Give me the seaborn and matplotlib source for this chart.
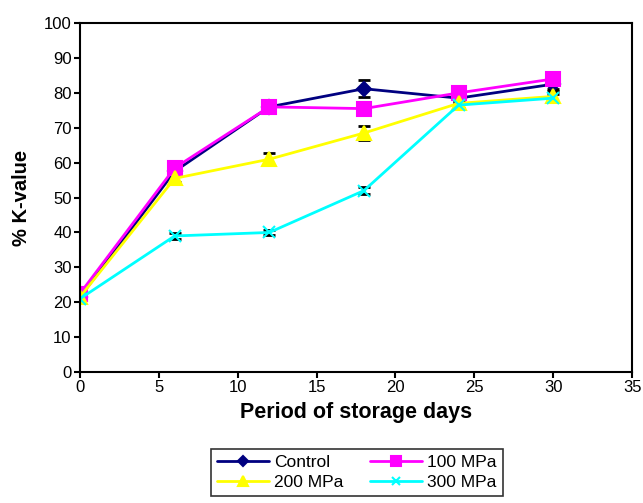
import pandas as pd
import matplotlib
matplotlib.use("Agg")
import matplotlib.pyplot as plt
import seaborn as sns

days = [0, 6, 12, 18, 24, 30]
control = [21.5, 57.5, 76.0, 81.2, 78.5, 82.5]
mpa100 = [22.5, 58.5, 76.0, 75.5, 80.0, 84.0]
mpa200 = [21.5, 55.5, 61.0, 68.5, 77.0, 79.0]
mpa300 = [21.0, 39.0, 40.0, 52.0, 76.5, 78.5]
err_control = [1.0, 1.0, 1.5, 2.4, 1.5, 1.5]
err_100 = [1.0, 1.0, 1.5, 1.0, 1.0, 1.0]
err_200 = [1.0, 1.0, 1.8, 2.0, 1.2, 1.5]
err_300 = [1.0, 0.8, 0.8, 1.0, 1.2, 1.2]

series = ["Control", "100 MPa", "200 MPa", "300 MPa"]
df = pd.DataFrame({
    "day": days * 4,
    "k": control + mpa100 + mpa200 + mpa300,
    "err": err_control + err_100 + err_200 + err_300,
    "treatment": [s for s in series for _ in days],
})

sns.set_style("ticks")
plt.rcParams["font.family"] = ["Liberation Sans", "DejaVu Sans"]
plt.rcParams["text.color"] = "black"
plt.rcParams["axes.labelcolor"] = "black"
plt.rcParams["xtick.color"] = "black"
plt.rcParams["ytick.color"] = "black"

colors = {"Control": "#000080", "100 MPa": "#ff00ff", "200 MPa": "#ffff00", "300 MPa": "#00ffff"}
markers = {"Control": "D", "100 MPa": "s", "200 MPa": "^", "300 MPa": "x"}
msizes = {"Control": 7, "100 MPa": 10, "200 MPa": 10, "300 MPa": 8}

fig = plt.figure(figsize=(6.43, 5.03), dpi=100)
ax = fig.add_axes([0.1244, 0.2604, 0.8586, 0.6936])

for s in series:
    d = df[df["treatment"] == s]
    ax.errorbar(d["day"], d["k"], yerr=d["err"], fmt="none", ecolor="black",
                elinewidth=1.0, capsize=4, capthick=2, zorder=1)
    sns.lineplot(data=d, x="day", y="k", ax=ax, color=colors[s], lw=2,
                 marker=markers[s], markersize=msizes[s], markeredgewidth=1.5,
                 markeredgecolor=colors[s], label=s, zorder=2)

ax.set_xlim(0, 35)
ax.set_ylim(0, 100)
ax.set_xticks(range(0, 36, 5))
ax.set_yticks(range(0, 101, 10))
ax.tick_params(labelsize=12, direction="out", length=4, width=1.5, pad=2,
               colors="black")
for sp in ax.spines.values():
    sp.set_linewidth(1.5)
    sp.set_color("black")
ax.set_xlabel("Period of storage days", fontsize=15.5, fontweight="bold", labelpad=5)
ax.set_ylabel("% K-value", fontsize=14.5, fontweight="bold", labelpad=9)

handles, labels = ax.get_legend_handles_labels()
ax.get_legend().remove()
order = [0, 2, 1, 3]
leg = fig.legend([handles[i] for i in order], [labels[i] for i in order],
                 loc="upper center", bbox_to_anchor=(0.555, 0.125),
                 ncol=2, fontsize=12.5, frameon=True, fancybox=False, edgecolor="black",
                 handlelength=3.0, columnspacing=1.5, handletextpad=0.3,
                 borderpad=0.35, labelspacing=0.3, markerscale=0.7)
leg.get_frame().set_linewidth(1.2)

fig.savefig("out.png", dpi=100)
